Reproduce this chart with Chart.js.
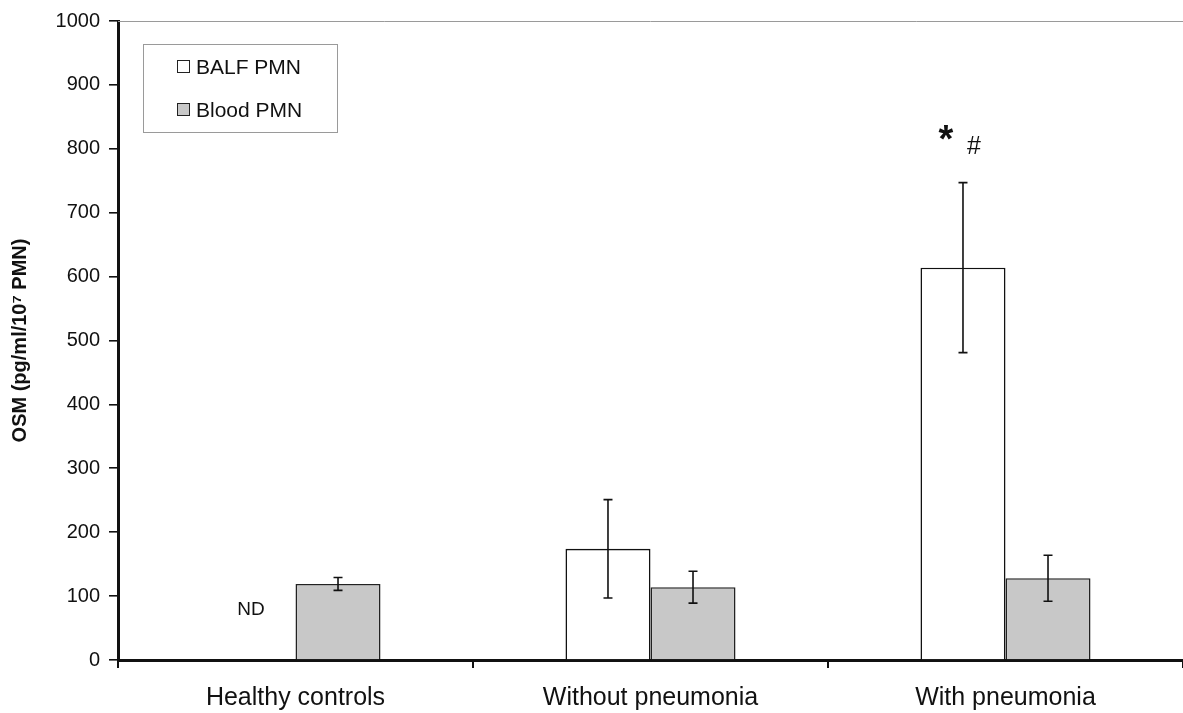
<!DOCTYPE html>
<html>
<head>
<meta charset="utf-8">
<script src="https://cdn.jsdelivr.net/npm/chart.js@4.4.0/dist/chart.umd.min.js"></script>
<style>
  html, body { margin: 0; padding: 0; background: #fff; }
  #wrap { width: 1183px; height: 713px; }
</style>
</head>
<body>
<div id="wrap"><canvas id="c" width="1183" height="713"></canvas></div>
<script>
const categories = ['Healthy controls', 'Without pneumonia', 'With pneumonia'];
const balfValues = [null, 174, 614];
const balfErrors = [null, 77, 133];
const bloodValues = [119, 114, 128];
const bloodErrors = [10, 25, 36];
const yMin = 0, yMax = 1000, yStep = 100;
const yTitle = 'OSM (pg/ml/10\u2077 PMN)';
// annotations: text, category index, value of its baseline
const noteTexts = ['ND', '*', '#'];
const noteCats = [0, 2, 2];
const noteValues = [70, 795, 792];

const FONT = '"Liberation Sans", Arial, sans-serif';

const errorBars = {
  id: 'errorBars',
  afterDatasetsDraw(chart) {
    const ctx = chart.ctx, ys = chart.scales.y;
    const errs = [balfErrors, bloodErrors];
    chart.data.datasets.forEach((ds, di) => {
      const meta = chart.getDatasetMeta(di);
      meta.data.forEach((bar, i) => {
        const v = ds.data[i], e = errs[di][i];
        if (v == null || e == null) return;
        const yt = ys.getPixelForValue(v + e), yb = ys.getPixelForValue(v - e);
        ctx.save();
        ctx.strokeStyle = '#111'; ctx.lineWidth = 1.6;
        ctx.beginPath();
        ctx.moveTo(bar.x, yt); ctx.lineTo(bar.x, yb);
        ctx.moveTo(bar.x - 4.5, yt); ctx.lineTo(bar.x + 4.5, yt);
        ctx.moveTo(bar.x - 4.5, yb); ctx.lineTo(bar.x + 4.5, yb);
        ctx.stroke();
        ctx.restore();
      });
    });
  }
};

const extras = {
  id: 'extras',
  beforeDatasetsDraw(chart) {
    const ctx = chart.ctx, a = chart.chartArea;
    ctx.save();
    ctx.strokeStyle = '#9a9a9a'; ctx.lineWidth = 1;
    ctx.beginPath();
    ctx.moveTo(a.left, a.top + 0.5); ctx.lineTo(a.right, a.top + 0.5);
    ctx.stroke();
    ctx.restore();
  },
  afterDraw(chart) {
    const ctx = chart.ctx, a = chart.chartArea, ys = chart.scales.y;
    // legend
    const lx = a.left + 25, ly = a.top + 23, lw = 194, lh = 88;
    ctx.save();
    ctx.strokeStyle = '#9a9a9a'; ctx.lineWidth = 1;
    ctx.strokeRect(lx + 0.5, ly + 0.5, lw, lh);
    ctx.font = '21px ' + FONT;
    ctx.textBaseline = 'middle';
    chart.data.datasets.forEach((ds, di) => {
      const cy = ly + 23 + di * 43;
      ctx.fillStyle = ds.backgroundColor;
      ctx.fillRect(lx + 34, cy - 7, 13, 13);
      ctx.strokeStyle = '#222'; ctx.lineWidth = 1;
      ctx.strokeRect(lx + 34.5, cy - 6.5, 12, 12);
      ctx.fillStyle = '#111';
      ctx.fillText(ds.label, lx + 53, cy + 1);
    });
    // annotations
    const bloodMeta = chart.getDatasetMeta(1);
    ctx.textAlign = 'center';
    ctx.textBaseline = 'alphabetic';
    ctx.fillStyle = '#111';
    noteTexts.forEach((t, k) => {
      const ci = noteCats[k];
      const blood = bloodMeta.data[ci];
      const balfX = blood.x - blood.width;
      let x = balfX - 2, font = '19px ' + FONT;
      if (t === '*') { x = balfX - 17; font = 'bold 38px ' + FONT; }
      if (t === '#') { x = balfX + 11; font = '25px ' + FONT; }
      ctx.font = font;
      ctx.fillText(t, x, ys.getPixelForValue(noteValues[k]));
    });
    ctx.restore();
  }
};

new Chart(document.getElementById('c'), {
  type: 'bar',
  data: {
    labels: categories,
    datasets: [
      { label: 'BALF PMN', data: balfValues, backgroundColor: '#ffffff', borderColor: '#111', borderWidth: 1.6 },
      { label: 'Blood PMN', data: bloodValues, backgroundColor: '#c8c8c8', borderColor: '#222', borderWidth: 1.6 }
    ]
  },
  options: {
    responsive: false,
    animation: false,
    events: [],
    layout: { padding: { top: 20, right: 0, bottom: 0, left: 0 } },
    plugins: { legend: { display: false }, tooltip: { enabled: false } },
    datasets: { bar: { categoryPercentage: 0.479, barPercentage: 1.0 } },
    scales: {
      x: {
        offset: true,
        grid: { offset: true, drawOnChartArea: false, drawTicks: true, tickLength: 8, color: '#111', lineWidth: 2 },
        border: { display: true, color: '#111', width: 3 },
        ticks: { color: '#111', font: { family: FONT, size: 25 }, padding: 15, maxRotation: 0 },
        afterFit(s) { s.height = 53; }
      },
      y: {
        min: yMin, max: yMax,
        grid: { drawOnChartArea: false, drawTicks: true, tickLength: 9, color: '#111', lineWidth: 1.6 },
        border: { display: true, color: '#111', width: 3 },
        ticks: { stepSize: yStep, color: '#111', font: { family: FONT, size: 20 }, padding: 9,
                 callback: (v) => String(v) },
        title: { display: true, text: yTitle, color: '#111', font: { family: FONT, size: 20, weight: 'bold' }, padding: { top: 8, bottom: 0 } },
        afterFit(s) { s.width = 118; }
      }
    }
  },
  plugins: [errorBars, extras]
});
</script>
</body>
</html>
